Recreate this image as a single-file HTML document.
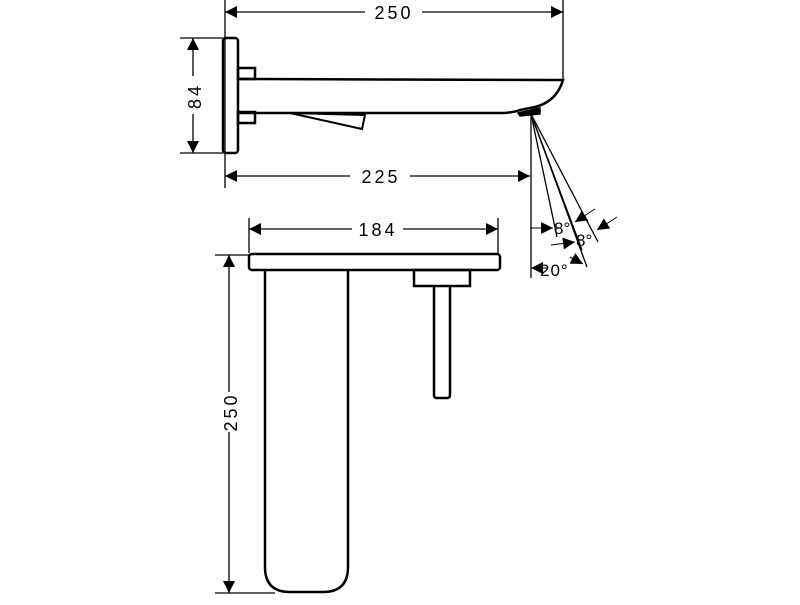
<!DOCTYPE html>
<html><head><style>body{margin:0;background:#fff}</style></head><body>
<svg width="800" height="600" viewBox="0 0 800 600" xmlns="http://www.w3.org/2000/svg" font-family="Liberation Sans, sans-serif">
<defs>
<marker id="a" viewBox="0 0 10 10" refX="10" refY="5" markerWidth="12" markerHeight="12" markerUnits="userSpaceOnUse" orient="auto-start-reverse"><path d="M0,0L10,5L0,10z" fill="#000"/></marker>
</defs>
<g stroke="#000" fill="none" stroke-width="1.3">
<line x1="225" y1="0" x2="225" y2="188"/>
<line x1="563" y1="0" x2="563" y2="80"/>
<line x1="180" y1="38" x2="223" y2="38"/>
<line x1="180" y1="153" x2="223" y2="153"/>
<line x1="531" y1="114" x2="531" y2="278"/>
<line x1="225" y1="12" x2="365" y2="12" marker-start="url(#a)"/>
<line x1="422" y1="12" x2="563" y2="12" marker-end="url(#a)"/>
<line x1="193" y1="38" x2="193" y2="76" marker-start="url(#a)"/>
<line x1="193" y1="114" x2="193" y2="153" marker-end="url(#a)"/>
<line x1="225" y1="176" x2="350" y2="176" marker-start="url(#a)"/>
<line x1="410" y1="176" x2="530" y2="176" marker-end="url(#a)"/>
<line x1="531" y1="114" x2="557" y2="237"/>
<line x1="531" y1="114" x2="582" y2="250"/>
<line x1="531" y1="114" x2="587" y2="267"/>
<line x1="531" y1="114" x2="598" y2="242"/>
<line x1="530" y1="228" x2="553" y2="228" marker-end="url(#a)" stroke-width="1"/>
<line x1="595" y1="209" x2="575" y2="222" marker-end="url(#a)" stroke-width="1"/>
<line x1="617" y1="217" x2="597" y2="230" marker-end="url(#a)" stroke-width="1"/>
<line x1="551" y1="245" x2="575" y2="242" marker-end="url(#a)" stroke-width="1"/>
<line x1="570" y1="257" x2="583" y2="264" marker-end="url(#a)" stroke-width="1"/>
<line x1="548" y1="268" x2="531" y2="268" marker-end="url(#a)" stroke-width="1"/>
</g>
<g stroke="#000" fill="none" stroke-width="2.5">
<rect x="223" y="38" width="15" height="115" rx="3"/>
<rect x="238" y="68" width="17" height="11"/>
<rect x="238" y="112" width="17" height="11"/>
<path d="M238,79 L563,80 Q556,104 530,108 L520,110 Q515,112 505,113 L238,113"/>
<path d="M518,113 L540,108 L540,114 L520,116z" fill="#000" stroke-width="1.5"/>
<path d="M290,113 L365,115 L362,129 Z" stroke-width="2"/>
</g>
<g stroke="#000" fill="none" stroke-width="1.3">
<line x1="249" y1="218" x2="249" y2="253"/>
<line x1="498" y1="218" x2="498" y2="253"/>
<line x1="249" y1="229" x2="352" y2="229" marker-start="url(#a)"/>
<line x1="403" y1="229" x2="498" y2="229" marker-end="url(#a)"/>
<line x1="215" y1="255" x2="250" y2="255"/>
<line x1="215" y1="593" x2="275" y2="593"/>
<line x1="229" y1="255" x2="229" y2="392" marker-start="url(#a)"/>
<line x1="229" y1="432" x2="229" y2="593" marker-end="url(#a)"/>
</g>
<g stroke="#000" fill="none" stroke-width="2.5">
<rect x="249" y="254" width="251" height="16" rx="3"/>
<path d="M265,270 L265,567 Q265,592 290,592 L323,592 Q348,592 348,567 L348,270"/>
<rect x="414" y="270" width="56" height="16"/>
<path d="M434,286 L434,395 Q434,398 437,398 L447,398 Q450,398 450,395 L450,286"/>
</g>
<g font-size="18" fill="#000" letter-spacing="3">
<text x="394" y="19" text-anchor="middle">250</text>
<text x="381" y="183" text-anchor="middle">225</text>
<text x="378" y="236" text-anchor="middle">184</text>
<text transform="translate(201,96) rotate(-90)" text-anchor="middle">84</text>
<text transform="translate(237,412) rotate(-90)" text-anchor="middle">250</text>
<text x="554" y="234" font-size="17" letter-spacing="0">8°</text>
<text x="576" y="246" font-size="17" letter-spacing="0">8°</text>
<text x="540" y="276" font-size="17" letter-spacing="1">20°</text>
</g>
</svg>
</body></html>
